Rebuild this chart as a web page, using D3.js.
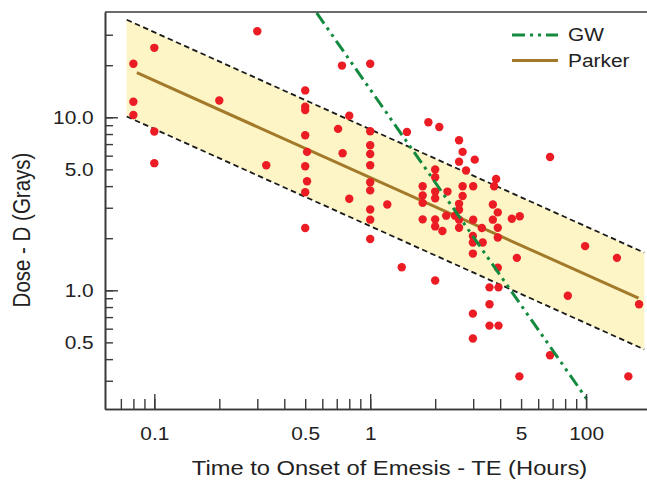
<!DOCTYPE html>
<html>
<head>
<meta charset="utf-8">
<script src="https://cdn.jsdelivr.net/npm/d3@7"></script>
<style>
  body { margin: 0; background: #fff; }
  text { font-family: "Liberation Sans", Arial, Helvetica, sans-serif; fill: #222; }
</style>
</head>
<body>
<div id="chart"></div>
<script>
// observed points: time to onset of emesis (hours) vs dose (Gy)
var timeHours = [
  0.3, 0.1, 0.08, 0.08, 0.08, 0.1, 0.1, 0.2, 0.33,
  0.5, 0.5, 0.5, 0.5, 0.51, 0.5, 0.51, 0.5, 0.5,
  0.74, 1.0, 0.8, 0.71, 1.0, 1.0, 1.0, 1.0, 0.745, 1.0, 1.0, 0.8, 1.2, 1.0, 1.0, 1.0,
  1.48, 1.86, 2.09, 2.58, 2.68, 3.05, 2.58, 2.78, 2.0, 2.0, 3.83, 3.75, 3.0, 2.68, 1.75,
  2.0, 2.28, 1.75, 2.0, 2.68, 1.75, 2.58, 3.7, 3.9, 2.58, 2.25, 2.47, 1.75, 2.0,
  2.58, 3.0, 3.7, 4.53, 4.93, 2.0, 2.16, 2.58, 3.29, 3.9, 2.99, 3.9, 2.99, 3.32,
  6.81, 9.9, 2.99, 4.78, 13.9, 3.9, 1.4, 2.0, 3.57, 3.93, 8.23, 17.6, 3.57,
  2.99, 3.57, 3.93, 2.99, 6.81, 4.91, 15.7
];
var doseGy = [
  31.4, 25.2, 20.4, 12.3, 10.3, 8.27, 5.43, 12.5, 5.28,
  14.3, 11.5, 11.0, 7.87, 6.31, 5.21, 4.27, 3.69, 2.29,
  19.9, 20.4, 10.2, 8.57, 8.3, 6.89, 6.14, 5.28, 6.19, 4.21, 3.78, 3.38, 3.13, 2.93, 2.56, 1.98,
  8.23, 9.36, 8.78, 7.36, 6.31, 5.69, 5.54, 4.92, 4.99, 4.5, 4.4, 3.99, 3.99, 3.99, 3.99,
  3.72, 3.72, 3.53, 3.4, 3.51, 3.2, 3.16, 3.13, 2.82, 2.92, 2.7, 2.7, 2.57, 2.57,
  2.56, 2.56, 2.56, 2.59, 2.68, 2.34, 2.2, 2.3, 2.29, 2.3, 2.06, 2.02, 1.89, 1.89,
  5.9, 1.8, 1.63, 1.54, 1.54, 1.35, 1.36, 1.14, 1.04, 1.04, 0.93, 0.83, 0.83,
  0.733, 0.625, 0.625, 0.526, 0.421, 0.318, 0.318
];

// Parker fit and its band, GW fit (end points)
var parkerT = [0.083, 17.5];
var parkerD = [18.1, 0.90];
var bandT = [0.0745, 18.6];
var bandUpper = [36.6, 1.65];
var bandLower = [10.1, 0.455];
var gwT = [0.565, 10.25];
var gwD = [40.1, 0.228];

var xTickValues = [0.1, 0.5, 1, 5, 10];
var xTickLabels = ["0.1", "0.5", "1", "5", "100"];
var xMajor = [0.1, 1, 10];
var xMinor = [0.07, 0.08, 0.09, 0.2, 0.3, 0.4, 0.6, 0.7, 0.8, 0.9, 2, 3, 4, 6, 7, 8, 9];
var yTickValues = [0.5, 1, 5, 10];
var yTickLabels = ["0.5", "1.0", "5.0", "10.0"];
var yMajor = [1, 10];
var yMinor = [0.3, 0.4, 0.6, 0.7, 0.8, 0.9, 2, 3, 4, 6, 7, 8, 9, 20, 30];

var legendNames = ["GW", "Parker"];

var margin = { top: 12, left: 105 };
var width = 555, height = 397;
var stretch = 1.13; // the reference text is a bit wide

var svg = d3.select("#chart")
  .append("svg")
  .attr("width", 647)
  .attr("height", 482)
  .append("g")
  .attr("transform", "translate(" + margin.left + "," + margin.top + ")");

var x = d3.scaleLog().domain([0.0591, 22.0]).range([0, width]);
var y = d3.scaleLog().domain([40.6, 0.206]).range([0, height]);

svg.append("clipPath").attr("id", "clip")
  .append("rect").attr("width", width).attr("height", height);

var plot = svg.append("g").attr("clip-path", "url(#clip)");

// band
var band = d3.range(bandT.length).map(i => ({ t: bandT[i], hi: bandUpper[i], lo: bandLower[i] }));

plot.append("path")
  .datum(band)
  .attr("fill", "#fdf5c6")
  .attr("d", d3.area().x(d => x(d.t)).y0(d => y(d.lo)).y1(d => y(d.hi)));

["hi", "lo"].forEach(k => {
  plot.append("path")
    .datum(band)
    .attr("fill", "none")
    .attr("stroke", "#1a1a1a")
    .attr("stroke-width", 1.8)
    .attr("stroke-dasharray", "5.5,3.5")
    .attr("d", d3.line().x(d => x(d.t)).y(d => y(d[k])));
});

// parker
plot.append("path")
  .datum(d3.zip(parkerT, parkerD))
  .attr("fill", "none")
  .attr("stroke", "#a27a2a")
  .attr("stroke-width", 3)
  .attr("d", d3.line().x(d => x(d[0])).y(d => y(d[1])));

// points
plot.selectAll("circle")
  .data(d3.zip(timeHours, doseGy))
  .enter()
  .append("circle")
  .attr("cx", d => x(d[0]))
  .attr("cy", d => y(d[1]))
  .attr("r", 4.2)
  .style("fill", "#ec1c24");

// GW
var gwDash = "13,5,3,5,3,5";
plot.append("path")
  .datum(d3.zip(gwT, gwD))
  .attr("fill", "none")
  .attr("stroke", "#138a3e")
  .attr("stroke-width", 3)
  .attr("stroke-dasharray", gwDash)
  .attr("d", d3.line().x(d => x(d[0])).y(d => y(d[1])));

// axes
function styleAxis(g) {
  g.select(".domain").attr("stroke", "#3a3a3a").attr("stroke-width", 1.6);
  g.selectAll(".tick line").attr("stroke", "#3a3a3a").attr("stroke-width", 1.4);
  g.selectAll("text").style("font-size", "18.5px").attr("fill", "#222");
}

var xAxisG = svg.append("g")
  .attr("transform", "translate(0," + height + ")")
  .call(d3.axisBottom(x).tickValues(xTickValues.concat(xMinor)).tickSize(-10).tickSizeOuter(0).tickPadding(18)
    .tickFormat(d => { var i = xTickValues.indexOf(d); return i < 0 ? "" : xTickLabels[i]; }))
  .call(styleAxis);
xAxisG.selectAll("text").attr("transform", "scale(" + stretch + ",1)");

svg.append("g")
  .attr("transform", "translate(0," + height + ")")
  .call(d3.axisBottom(x).tickValues(xMajor).tickSize(-15).tickSizeOuter(0).tickFormat(""))
  .call(styleAxis);

var yAxisG = svg.append("g")
  .call(d3.axisLeft(y).tickValues(yTickValues.concat(yMinor)).tickSize(-8).tickSizeOuter(0).tickPadding(10)
    .tickFormat(d => { var i = yTickValues.indexOf(d); return i < 0 ? "" : yTickLabels[i]; }))
  .call(styleAxis);
yAxisG.selectAll("text").attr("transform", "scale(" + stretch + ",1)");

svg.append("g")
  .call(d3.axisLeft(y).tickValues(yMajor).tickSize(-13).tickSizeOuter(0).tickFormat(""))
  .call(styleAxis);

// top frame
svg.append("line")
  .attr("x1", 0).attr("x2", width).attr("y1", 0).attr("y2", 0)
  .attr("stroke", "#3a3a3a").attr("stroke-width", 1.6);

// axis titles
svg.append("text")
  .attr("transform", "translate(284.5,463) scale(" + stretch + ",1)")
  .attr("text-anchor", "middle")
  .style("font-size", "21px")
  .text("Time to Onset of Emesis - TE (Hours)");

svg.append("text")
  .attr("transform", "translate(-75,218) rotate(-90) scale(1," + stretch + ")")
  .attr("text-anchor", "middle")
  .style("font-size", "20.5px")
  .text("Dose - D (Grays)");

// legend
var legend = svg.append("g").attr("transform", "translate(407,23)");
legendNames.forEach((name, i) => {
  legend.append("line")
    .attr("x1", 0).attr("x2", 46)
    .attr("y1", i * 25.5).attr("y2", i * 25.5)
    .attr("stroke", i == 0 ? "#138a3e" : "#a27a2a")
    .attr("stroke-width", 3)
    .attr("stroke-dasharray", i == 0 ? gwDash : null);
  legend.append("text")
    .attr("transform", "translate(56," + (i * 25.5) + ") scale(" + stretch + ",1)")
    .attr("dy", "0.35em")
    .style("font-size", "18.5px")
    .text(name);
});
</script>
</body>
</html>
